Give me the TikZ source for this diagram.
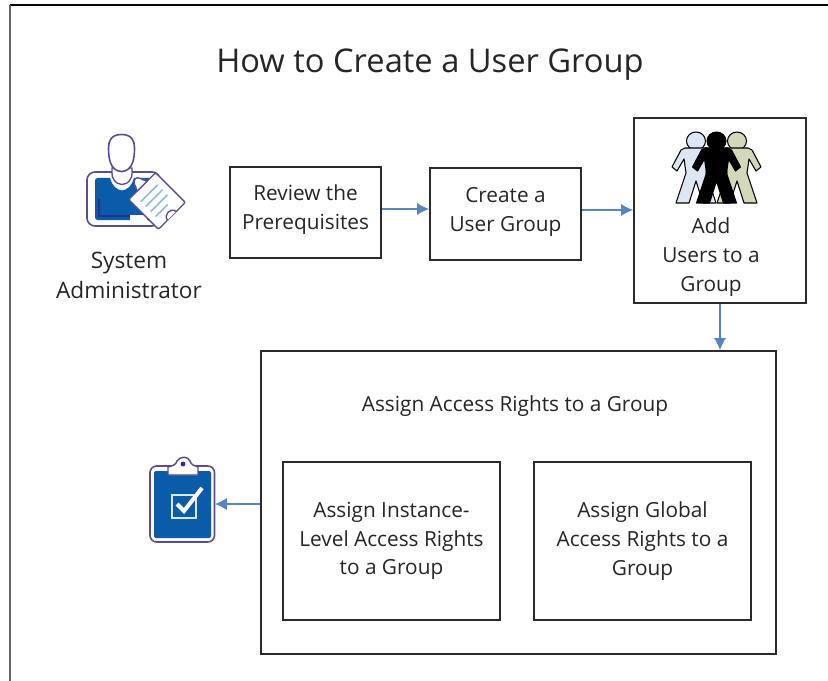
\documentclass[tikz,border=0pt]{standalone}
\usepackage{fontspec}
\setmainfont{Open Sans}
\usetikzlibrary{arrows.meta}
\definecolor{boxline}{HTML}{2B2B2B}
\definecolor{arrowblue}{HTML}{5585C4}
\definecolor{iconblue}{HTML}{0B5CA8}
\definecolor{iconpurple}{HTML}{5B4A9A}
\definecolor{icondark}{HTML}{23308F}
\definecolor{paleblue}{HTML}{DCE6F4}
\definecolor{palegreen}{HTML}{D3D9B8}
\definecolor{lineblue}{HTML}{8DBBE0}
\tikzset{
  flowbox/.style={draw=boxline,line width=1.2pt,fill=white,align=center,font=\fontsize{15.6}{21.5}\selectfont,text=black!85,inner sep=0pt},
  plainlabel/.style={align=center,font=\fontsize{15.6}{21.7}\selectfont,text=black!85,inner sep=0pt},
  flow/.style={draw=arrowblue,line width=1.1pt,-{Latex[length=9pt,width=9pt]}},
}
\newcommand{\peoplefig}[3]{%
  \begin{scope}[shift={(#2,#3)}]
  \filldraw[fill=#1,draw=black,line width=.8pt] (0,0) circle[x radius=9.5,y radius=9];
  \filldraw[fill=#1,draw=black,line width=.8pt,line join=round]
    (-11,7) -- (11,7) -- (15,9) -- (24,26) -- (19,30) -- (12,18) -- (10,32) -- (20,62) -- (7,62) -- (0,40) -- (-7,62) -- (-20,62) -- (-10,32) -- (-12,18) -- (-19,30) -- (-24,26) -- (-15,9) -- cycle;
  \end{scope}
}
\begin{document}
\begin{tikzpicture}[x=0.75pt,y=-0.75pt]
\useasboundingbox (0,0) rectangle (828,681);
\coordinate (frameTL) at (10,5);
\coordinate (frameTR) at (828,5);
\coordinate (frameBL) at (10,681);
\draw[black,line width=1.2pt] (frameTL) -- (frameTR);
\draw[black!60,line width=1.5pt] (frameTL) -- (frameBL);

\node[font=\fontsize{24.5}{30}\selectfont,text=black!85,inner sep=0pt] (title) at (430,65) {How to Create a User Group};

% boxes
\node[flowbox,minimum width=113.25pt,minimum height=68.25pt] (review) at (305.5,212.5) {};
\node[plainlabel] (reviewlabel) at (305.5,209.5) {Review the\\Prerequisites};
\node[flowbox,minimum width=113.25pt,minimum height=69pt] (create) at (505.5,214) {};
\node[plainlabel] (createlabel) at (505.5,212) {Create a\\User Group};
\node[flowbox,minimum width=129pt,minimum height=138.75pt] (add) at (720,210.5) {};
\node[plainlabel] (addlabel) at (711,257) {Add\\Users to a\\Group};
\node[flowbox,minimum width=386.25pt,minimum height=227.25pt] (assign) at (518.5,502.5) {};
\node[plainlabel] (assigntitle) at (515,406) {Assign Access Rights to a Group};
\node[flowbox,minimum width=162.75pt,minimum height=118.5pt] (instance) at (391.5,541) {Assign Instance-\\Level Access Rights\\to a Group};
\node[flowbox,minimum width=162.75pt,minimum height=118.5pt] (global) at (642.5,541) {Assign Global\\Access Rights to a\\Group};
\node[plainlabel,font=\fontsize{17}{23}\selectfont] (admin) at (129,275.5) {System\\Administrator};

% clipboard icon
\draw[iconpurple,line width=1.2pt,fill=white,rounded corners=5pt] (150,466) rectangle (214.5,542);
\fill[iconblue,rounded corners=1.5pt] (154,471) rectangle (211,538);
\draw[iconpurple,line width=1.1pt,fill=white,line join=round] (168,475) -- (168,467) .. controls (172,466) and (176,465) .. (177,461) .. controls (180,456) and (188,456) .. (190,461) .. controls (191,465) and (195,466) .. (198,467) -- (198,475) -- cycle;
\fill[icondark] (183,464) circle[radius=2.4];
\draw[white!85!iconblue,line width=1.3pt] (172,495) rectangle (196,518);
\draw[white,line width=3pt,line join=miter] (177,504) -- (184,511) -- (202,488);
\node[inner sep=0pt,minimum width=48.75pt,minimum height=57pt] (done) at (182,504) {};

% person icon
\draw[iconpurple,line width=1.2pt,fill=white,rounded corners=6pt] (87,172) rectangle (160,226);
\fill[iconblue,rounded corners=2pt] (95,178) rectangle (156,220);
\draw[icondark,line width=1.3pt] (99,199) -- (99,216) -- (130,216);
\fill[white] (130,215) rectangle (147,224);
\draw[white,fill=white] (110,176) .. controls (112,186) and (118,190) .. (122,190) .. controls (126,190) and (132,186) .. (134,176) -- cycle;
\draw[iconpurple,line width=1pt,fill=white] (112,168) .. controls (112,176) and (112,178) .. (114,180) .. controls (118,186) and (126,186) .. (130,180) .. controls (132,178) and (132,176) .. (132,168) -- cycle;
\draw[iconpurple,line width=1.2pt,fill=white] (121.5,134.5) .. controls (111,134.5) and (108.5,141) .. (108.5,148) .. controls (108.5,158) and (110,171) .. (121.5,171.5) .. controls (133,171) and (134.5,158) .. (134.5,148) .. controls (134.5,141) and (132,134.5) .. (121.5,134.5) -- cycle;
\begin{scope}[shift={(157,201)},rotate=45]
  \draw[iconpurple,line width=1pt,fill=white,rounded corners=1pt] (-19,-21) rectangle (19,21);
  \draw[iconpurple,line width=1pt,fill=white] (-7,-21) .. controls (-6,-25) and (-4,-25) .. (-4,-28) .. controls (-2,-32) and (3,-32) .. (4,-28) .. controls (4,-25) and (6,-25) .. (7,-21) -- cycle;
  \draw[iconpurple,line width=1pt,fill=white] (-6,21) .. controls (-6,14) and (6,14) .. (6,21);
  \foreach \yy/\xa/\xb in {-11/-12/12,-4/-12/12,3/-12/12,10/-12/5}
    \draw[lineblue,line width=1.2pt] (\xa,\yy) -- (\xb,\yy);
\end{scope}

% people icon
\peoplefig{paleblue}{696}{141}
\peoplefig{palegreen}{737}{141}
\peoplefig{black}{716.5}{141}

% connectors
\draw[flow] (review.east |- 0,209) -- (create.west |- 0,209);
\draw[flow] (create.east |- 0,210) -- (add.west |- 0,210);
\draw[flow] (add.south -| 720,0) -- (assign.north -| 720,0);
\draw[flow] (assign.west |- done.east) -- (done.east);
\end{tikzpicture}
\end{document}
